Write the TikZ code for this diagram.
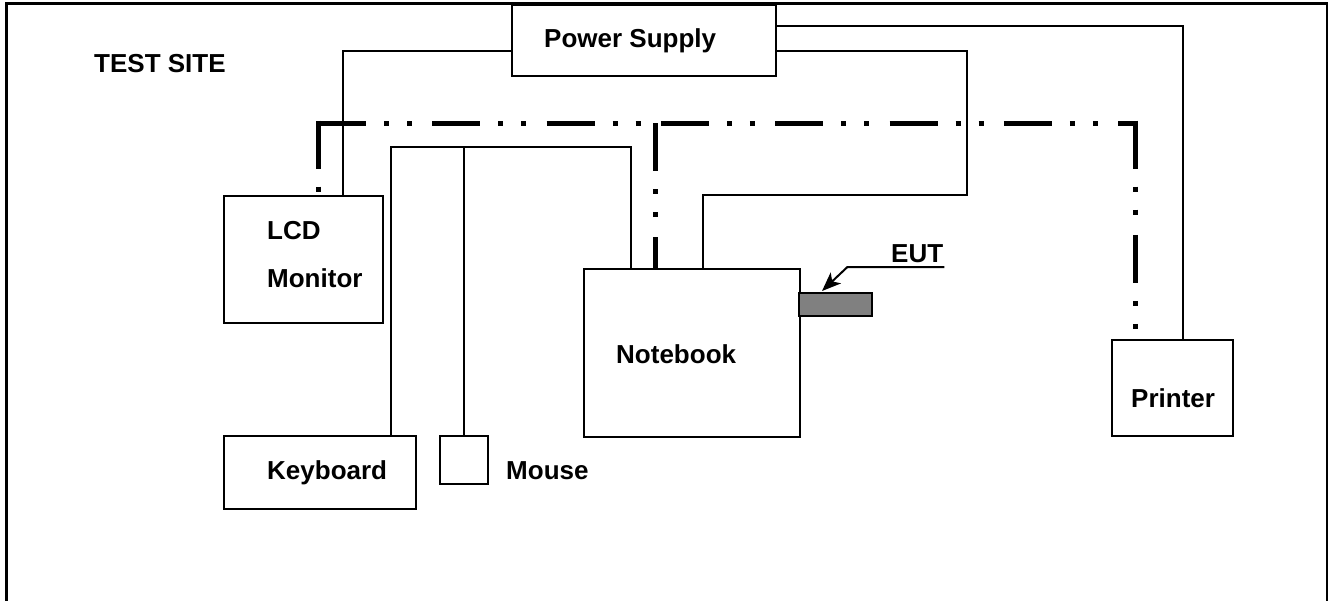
\documentclass[tikz,border=0pt]{standalone}
\usepackage{fontspec}
\setmainfont{Liberation Sans}
\usetikzlibrary{arrows.meta,positioning}
\tikzset{
  unit/.style={draw, line width=2pt, inner sep=0pt, anchor=north west},
  lbl/.style={font=\fontsize{26}{30}\selectfont\bfseries, inner sep=0pt, anchor=base west},
  wire/.style={line width=1.7pt},
  gnd/.style={line width=5pt, dash pattern=on 48pt off 18pt on 5pt off 18pt on 5pt off 20.3pt},
}

\begin{document}
\begin{tikzpicture}[x=1pt, y=-1pt]
  \useasboundingbox (0,0) rectangle (1333,600);
  % test site
  \draw[line width=2.2pt] (6.5,620) |- (1327,3.5) -- (1327,620);
  \node[lbl] (site) at (94,72) {TEST SITE};
  % equipment
  \node[unit, minimum width=264pt, minimum height=71pt] (psu) at (511,4) {};
  \node[unit, minimum width=159pt, minimum height=127pt] (lcd) at (223,195) {};
  \node[unit, minimum width=192pt, minimum height=73pt] (kbd) at (223,435) {};
  \node[unit, minimum width=48pt, minimum height=48pt] (mouse) at (439,435) {};
  \node[unit, minimum width=216pt, minimum height=168pt] (nb) at (583,268) {};
  \node[unit, minimum width=73pt, minimum height=23pt, fill=black!50, line width=1.7pt] (eut) at (798,292) {};
  \node[unit, minimum width=121pt, minimum height=96pt] (prn) at (1111,339) {};
  \node[lbl] (psulbl) at (544,47) {Power Supply};
  \node[lbl] (lcdlbl) at (267,239) {LCD};
  \node[lbl] (monlbl) at (267,287) {Monitor};
  \node[lbl] (kbdlbl) at (267,479) {Keyboard};
  \node[lbl] (mouselbl) at (506,479) {Mouse};
  \node[lbl] (nblbl) at (616,363) {Notebook};
  \node[lbl] (prnlbl) at (1131,407) {Printer};
  \node[lbl] (eutlbl) at (891,262) {EUT};
  % power cords
  \coordinate (nbbend) at (967,195);
  \draw[wire] ([yshift=-47pt]psu.north west) -| ([xshift=120pt]lcd.north west);
  \draw[wire] ([yshift=-22pt]psu.north east) -| ([xshift=72pt]prn.north west);
  \draw[wire] ([yshift=-47pt]psu.north east) -| (nbbend) -| ([xshift=120pt]nb.north west);
  % keyboard and mouse cables
  \coordinate (hub) at (631,147);
  \draw[wire] ([xshift=168pt]kbd.north west) |- (hub) -- ([xshift=48pt]nb.north west);
  \draw[wire] (mouse.north) -- (mouse.north |- hub);
  % ground line
  \coordinate (gl) at (318,123);
  \coordinate (gr) at (1135,123);
  \coordinate (gm) at (655,123);
  \draw[gnd] (gl) -- (gr);
  \draw[gnd] ([yshift=2.5pt]gl) -- (lcd.north west -| gl);
  \draw[gnd] (gm) -- (nb.north west -| gm);
  \draw[gnd] ([yshift=2.5pt]gr) -- (prn.north west -| gr);
  % eut pointer
  \draw[wire, line width=2pt, -{Stealth[length=19pt, width=15pt, inset=5pt]}]
    ([yshift=-5pt, xshift=1pt]eutlbl.base east) -- ++(-97,0) -- ([xshift=24pt, yshift=1pt]eut.north west);
\end{tikzpicture}
\end{document}
